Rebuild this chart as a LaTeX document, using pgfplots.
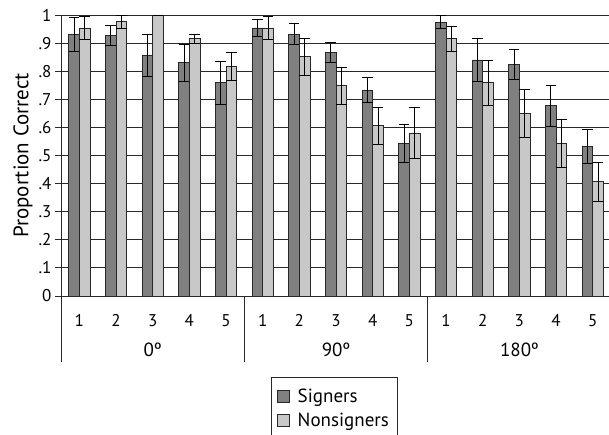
\documentclass[border=0pt]{standalone}
\usepackage{fontspec}
\setmainfont{PT Sans}
\usepackage{pgfplots}
\pgfplotsset{compat=1.18}
\usepackage{pgfplotstable}

\definecolor{darkbar}{RGB}{128,128,128}
\definecolor{lightbar}{RGB}{200,200,200}
\definecolor{lineclr}{RGB}{40,40,40}

\pgfplotstableread{
x y e
0 0.932 0.060
1 0.926 0.036
2 0.855 0.075
3 0.830 0.065
4 0.759 0.077
5 0.954 0.030
6 0.932 0.038
7 0.867 0.036
8 0.732 0.044
9 0.542 0.068
10 0.975 0.022
11 0.840 0.075
12 0.824 0.055
13 0.677 0.073
14 0.531 0.060
}\signers

\pgfplotstableread{
x y e
0 0.954 0.040
1 0.976 0.023
2 1.000 0.000
3 0.916 0.016
4 0.817 0.050
5 0.954 0.040
6 0.851 0.065
7 0.748 0.065
8 0.606 0.066
9 0.580 0.090
10 0.916 0.045
11 0.759 0.080
12 0.650 0.086
13 0.542 0.085
14 0.407 0.070
}\nonsigners

\begin{document}
\begin{tikzpicture}[x=1pt,y=1pt]
\path[use as bounding box] (0,0) rectangle (609,435);
\begin{axis}[
  at={(61pt,139pt)}, anchor=south west,
  scale only axis, width=548pt, height=281pt,
  xmin=-0.5, xmax=14.445, ymin=0, ymax=1,
  ybar=0pt, bar width=0.29,
  axis lines*=left, axis line style={-, draw=lineclr, line width=0.9pt},
  clip mode=individual,
  ymajorgrids, grid style={draw=lineclr, line width=0.9pt},
  ytick={0,0.1,0.2,0.3,0.4,0.5,0.6,0.7,0.8,0.9,1},
  yticklabels={0,.1,.2,.3,.4,.5,.6,.7,.8,.9,1},
  y tick style={draw=lineclr, line width=0.9pt},
  tick align=outside, major tick length=6pt,
  xtick={0,1,2,3,4,5,6,7,8,9,10,11,12,13,14},
  xticklabels={1,2,3,4,5,1,2,3,4,5,1,2,3,4,5},
  x tick style={draw=none},
  ticklabel style={font=\fontsize{17}{19}\selectfont},
  xticklabel style={yshift=-9pt},
  ylabel={Proportion Correct},
  ylabel style={font=\fontsize{21}{23}\selectfont, at={(axis description cs:-0.0693,0.5)}, anchor=center},
  legend style={at={(0.3832,0)}, anchor=north west, yshift=-81pt,
    draw=lineclr, line width=0.9pt, font=\fontsize{19}{21}\selectfont,
    row sep=4pt, inner xsep=6pt, inner ysep=9pt, nodes={inner sep=2.5pt}},
  legend cell align=left,
  legend image code/.code={\draw[#1, line width=0.8pt] (0pt,-6pt) rectangle (12pt,6pt); \path (17pt,0pt);},
]
\addplot[fill=darkbar, draw=lineclr, line width=0.8pt,
  error bars/.cd, y dir=both, y explicit,
  error bar style={line width=0.9pt, draw=black},
  error mark options={rotate=90, draw=black, mark size=5.2pt, line width=0.9pt}]
  table[x=x, y=y, y error=e] {\signers};
\addplot[fill=lightbar, draw=lineclr, line width=0.8pt,
  error bars/.cd, y dir=both, y explicit,
  error bar style={line width=0.9pt, draw=black},
  error mark options={rotate=90, draw=black, mark size=5.2pt, line width=0.9pt}]
  table[x=x, y=y, y error=e] {\nonsigners};
\legend{Signers, Nonsigners}
\draw[lineclr, line width=0.9pt] (axis cs:-0.5,0) -- ([yshift=-66pt]axis cs:-0.5,0);
\draw[lineclr, line width=0.9pt] (axis cs:4.5,0) -- ([yshift=-66pt]axis cs:4.5,0);
\draw[lineclr, line width=0.9pt] (axis cs:9.5,0) -- ([yshift=-66pt]axis cs:9.5,0);
\node[font=\fontsize{19}{21}\selectfont] at ([yshift=-54pt]axis cs:2,0) {0º};
\node[font=\fontsize{19}{21}\selectfont] at ([yshift=-54pt]axis cs:7,0) {90º};
\node[font=\fontsize{19}{21}\selectfont] at ([yshift=-54pt]axis cs:12,0) {180º};
\end{axis}
\end{tikzpicture}
\end{document}
